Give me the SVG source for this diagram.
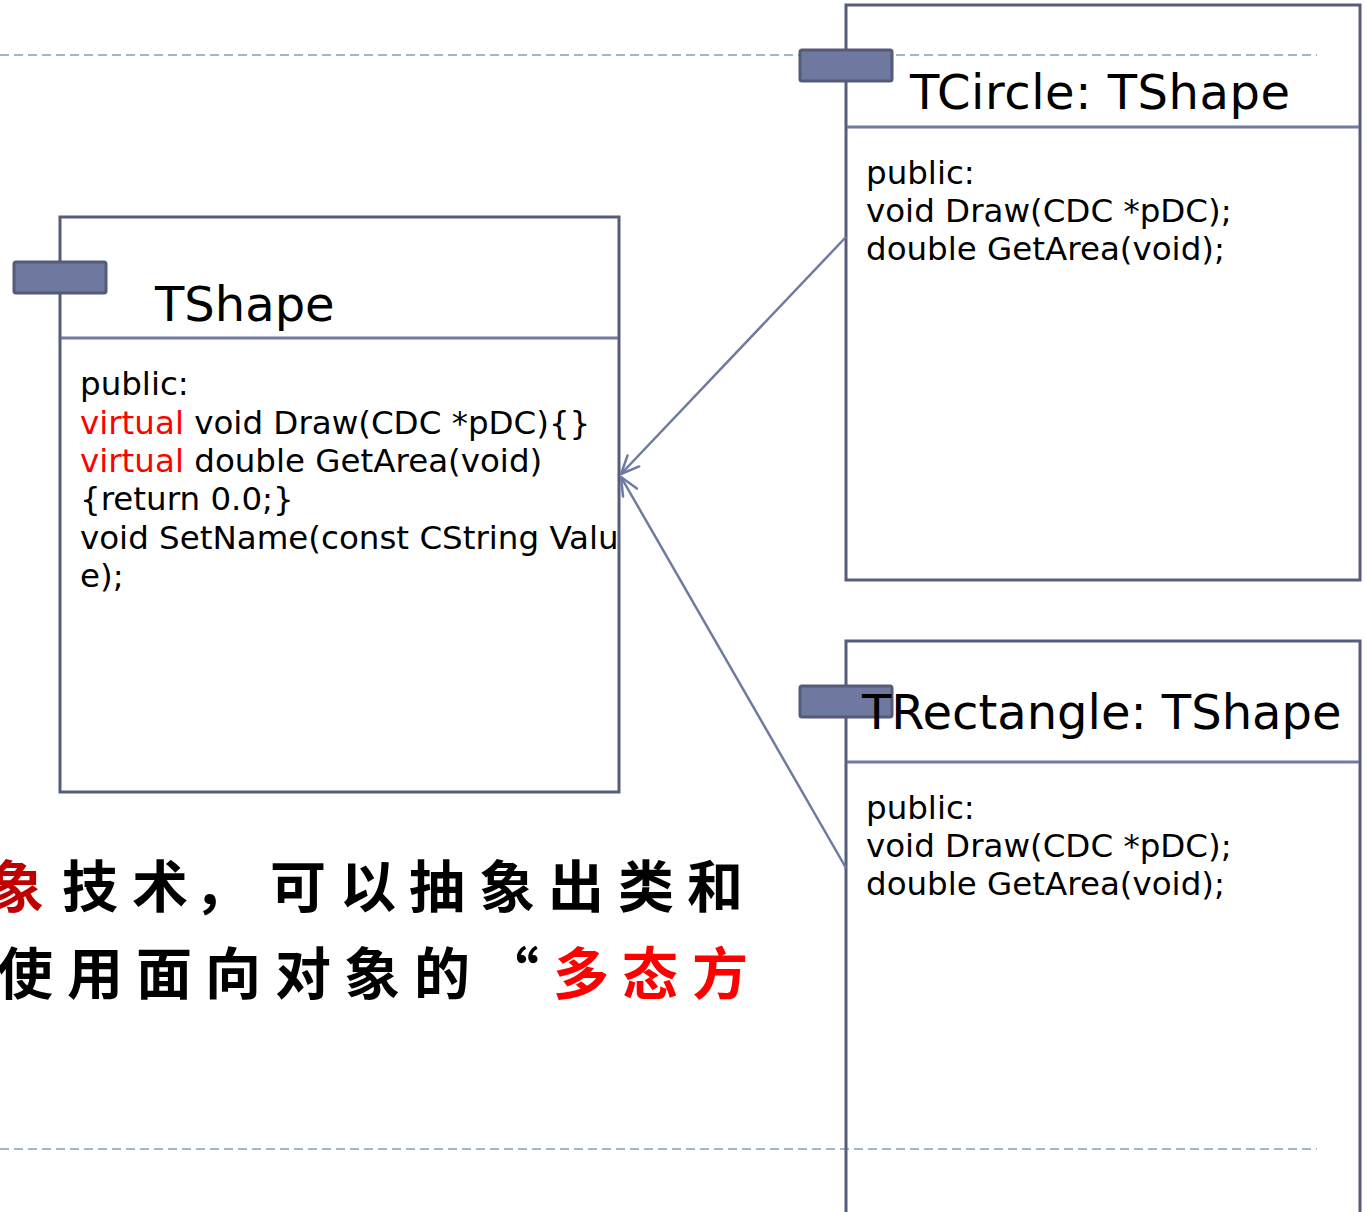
<svg xmlns="http://www.w3.org/2000/svg" width="1365" height="1212" viewBox="0 0 1365 1212">
<defs>
<style>
.dash{stroke:#a3b7cc;stroke-width:2;stroke-dasharray:9 5;fill:none}
.box{fill:none;stroke:#575c7a;stroke-width:3}
.sep{stroke:#7079a0;stroke-width:3}
.tab{fill:#6f79a0;stroke:#545a78;stroke-width:3}
.title{font-family:"DejaVu Sans",Verdana,sans-serif;font-size:48px;fill:#000}
.body{font-family:"DejaVu Sans",Verdana,sans-serif;font-size:32.5px;fill:#000}
.kw{fill:#ff0000}
.conn{stroke:#6f7aa0;stroke-width:2.5;fill:none}
.cjk{font-family:"Noto Sans CJK SC","Noto Sans CJK TC",sans-serif;font-size:56px;font-weight:bold;fill:#000}
</style>
<marker id="open" viewBox="-20 -10 22 20" markerWidth="22" markerHeight="20" refX="0" refY="0" orient="auto" markerUnits="userSpaceOnUse" overflow="visible">
<path d="M-18,-8 L0,0 L-18,8" fill="none" stroke="#6f7aa0" stroke-width="2.5" stroke-linecap="round" stroke-linejoin="round"/>
</marker>
</defs>
<rect width="1365" height="1212" fill="#ffffff"/>
<line class="dash" x1="0" y1="55" x2="1317" y2="55"/>
<line class="dash" x1="0" y1="1149" x2="1317" y2="1149"/>

<g id="TShape">
<rect class="box" x="60" y="217" width="559" height="575"/>
<line class="sep" x1="61" y1="338" x2="618" y2="338"/>
<rect class="tab" x="14" y="262" width="92" height="31" rx="2"/>
<text class="title" x="155" y="321">TShape</text>
<text class="body" x="80" y="395">public:</text>
<text class="body" x="80" y="434"><tspan class="kw">virtual</tspan> void Draw(CDC *pDC){}</text>
<text class="body" x="80" y="472"><tspan class="kw">virtual</tspan> double GetArea(void)</text>
<text class="body" x="80" y="510">{return 0.0;}</text>
<text class="body" x="80" y="549">void SetName(const CString Valu</text>
<text class="body" x="80" y="587">e);</text>
</g>

<g id="TCircle">
<rect class="box" x="846" y="5" width="514" height="575"/>
<line class="sep" x1="847" y1="127" x2="1359" y2="127"/>
<rect class="tab" x="800" y="50" width="92" height="31" rx="2"/>
<text class="title" x="910" y="109" textLength="380">TCircle: TShape</text>
<text class="body" x="866" y="184">public:</text>
<text class="body" x="866" y="222">void Draw(CDC *pDC);</text>
<text class="body" x="866" y="260">double GetArea(void);</text>
</g>

<g id="TRectangle">
<path class="box" d="M846,1214 V641 H1360 V1214"/>
<line class="sep" x1="847" y1="762" x2="1359" y2="762"/>
<rect class="tab" x="800" y="686" width="92" height="31" rx="2"/>
<text class="title" x="862" y="729">TRectangle: TShape</text>
<text class="body" x="866" y="819">public:</text>
<text class="body" x="866" y="857">void Draw(CDC *pDC);</text>
<text class="body" x="866" y="895">double GetArea(void);</text>
</g>

<g id="connectors">
<line class="conn" x1="846" y1="237" x2="621" y2="474" marker-end="url(#open)"/>
<line class="conn" x1="846" y1="868" x2="621" y2="477" marker-end="url(#open)"/>
</g>

<g id="caption">
<text class="cjk" y="907"><tspan x="-12" fill="#c00000">象</tspan><tspan x="62 132 194 270 340 409 479 548 618 687">技术，可以抽象出类和</tspan></text>
<text class="cjk" y="994"><tspan x="-3 67 136 205 275 344 414">使用面向对象的</tspan><tspan x="483">“</tspan><tspan x="553 622 692" fill="#ff0000">多态方</tspan></text>
</g>
</svg>
